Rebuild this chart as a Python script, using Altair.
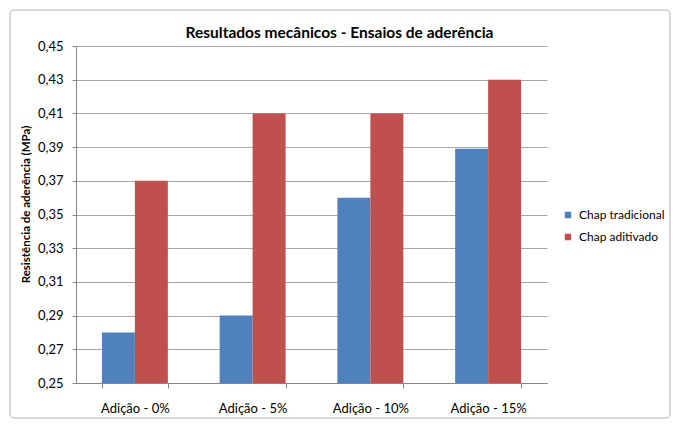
import altair as alt
import pandas as pd

categories = ["Adição - 0%", "Adição - 5%", "Adição - 10%", "Adição - 15%"]
series = ["Chap tradicional", "Chap aditivado"]
tradicional = [0.28, 0.29, 0.36, 0.389]
aditivado = [0.37, 0.41, 0.41, 0.43]
y_ticks = [0.25, 0.27, 0.29, 0.31, 0.33, 0.35, 0.37, 0.39, 0.41, 0.43, 0.45]

rows = []
for c, a, b in zip(categories, tradicional, aditivado):
    rows.append({"cat": c, "serie": series[0], "val": a})
    rows.append({"cat": c, "serie": series[1], "val": b})
df = pd.DataFrame(rows)

FONT = "Lato"

bars = alt.Chart(df).mark_bar(clip=True).encode(
    x=alt.X("cat:N", sort=categories,
            scale=alt.Scale(paddingInner=0.44, paddingOuter=0.22),
            axis=alt.Axis(title=None, labelAngle=0, tickBand="extent", labelPadding=14,
                          labelFontSize=13, labelColor="#000", domainColor="#868686",
                          tickColor="#868686", tickSize=5, labelFont=FONT)),
    xOffset=alt.XOffset("serie:N", sort=series),
    y=alt.Y("val:Q", scale=alt.Scale(domain=[0.25, 0.45], zero=False, nice=False),
            axis=alt.Axis(title="Resistência de aderência (MPa)", values=y_ticks,
                          labelExpr="replace(format(datum.value, '.2f'), '.', ',')",
                          grid=True, gridColor="#a6a6a6", domainColor="#868686",
                          tickColor="#868686", tickSize=4, labelFontSize=13,
                          labelColor="#000", labelFont=FONT, labelPadding=9,
                          titleFont=FONT, titleFontSize=11.5, titleFontWeight="bold",
                          titleColor="#000", titleX=-50, titleY=158,
                          titleAlign="center", titleBaseline="middle", titleAngle=270)),
    color=alt.Color("serie:N", sort=series,
                    scale=alt.Scale(domain=series, range=["#4F81BD", "#C0504D"]),
                    legend=alt.Legend(title=None, orient="none", legendX=486, legendY=163,
                                      symbolType="square", symbolSize=42,
                                      symbolStrokeWidth=0, labelFontSize=12,
                                      labelFont=FONT, labelColor="#000",
                                      rowPadding=10, labelOffset=5)),
)

frame = alt.Chart(pd.DataFrame({"k": [0]})).mark_rect(
    fill=None, stroke="#cccccc", strokeWidth=1.5, cornerRadius=4, clip=False
).encode(
    x=alt.value(-66), x2=alt.value(594), y=alt.value(-36), y2=alt.value(372)
)

chart = alt.layer(frame, bars).properties(
    width=471, height=337,
    title=alt.TitleParams("Resultados mecânicos - Ensaios de aderência", font=FONT,
                          fontSize=15.5, fontWeight="bold", color="#000",
                          anchor="middle", frame="group", dx=28, offset=-32),
    autosize=alt.AutoSizeParams(type="none"),
    padding={"left": 68, "top": 38, "right": 125, "bottom": 37},
).configure_view(stroke=None)

chart.save("out.html", embed_options={"renderer": "svg", "actions": False})
